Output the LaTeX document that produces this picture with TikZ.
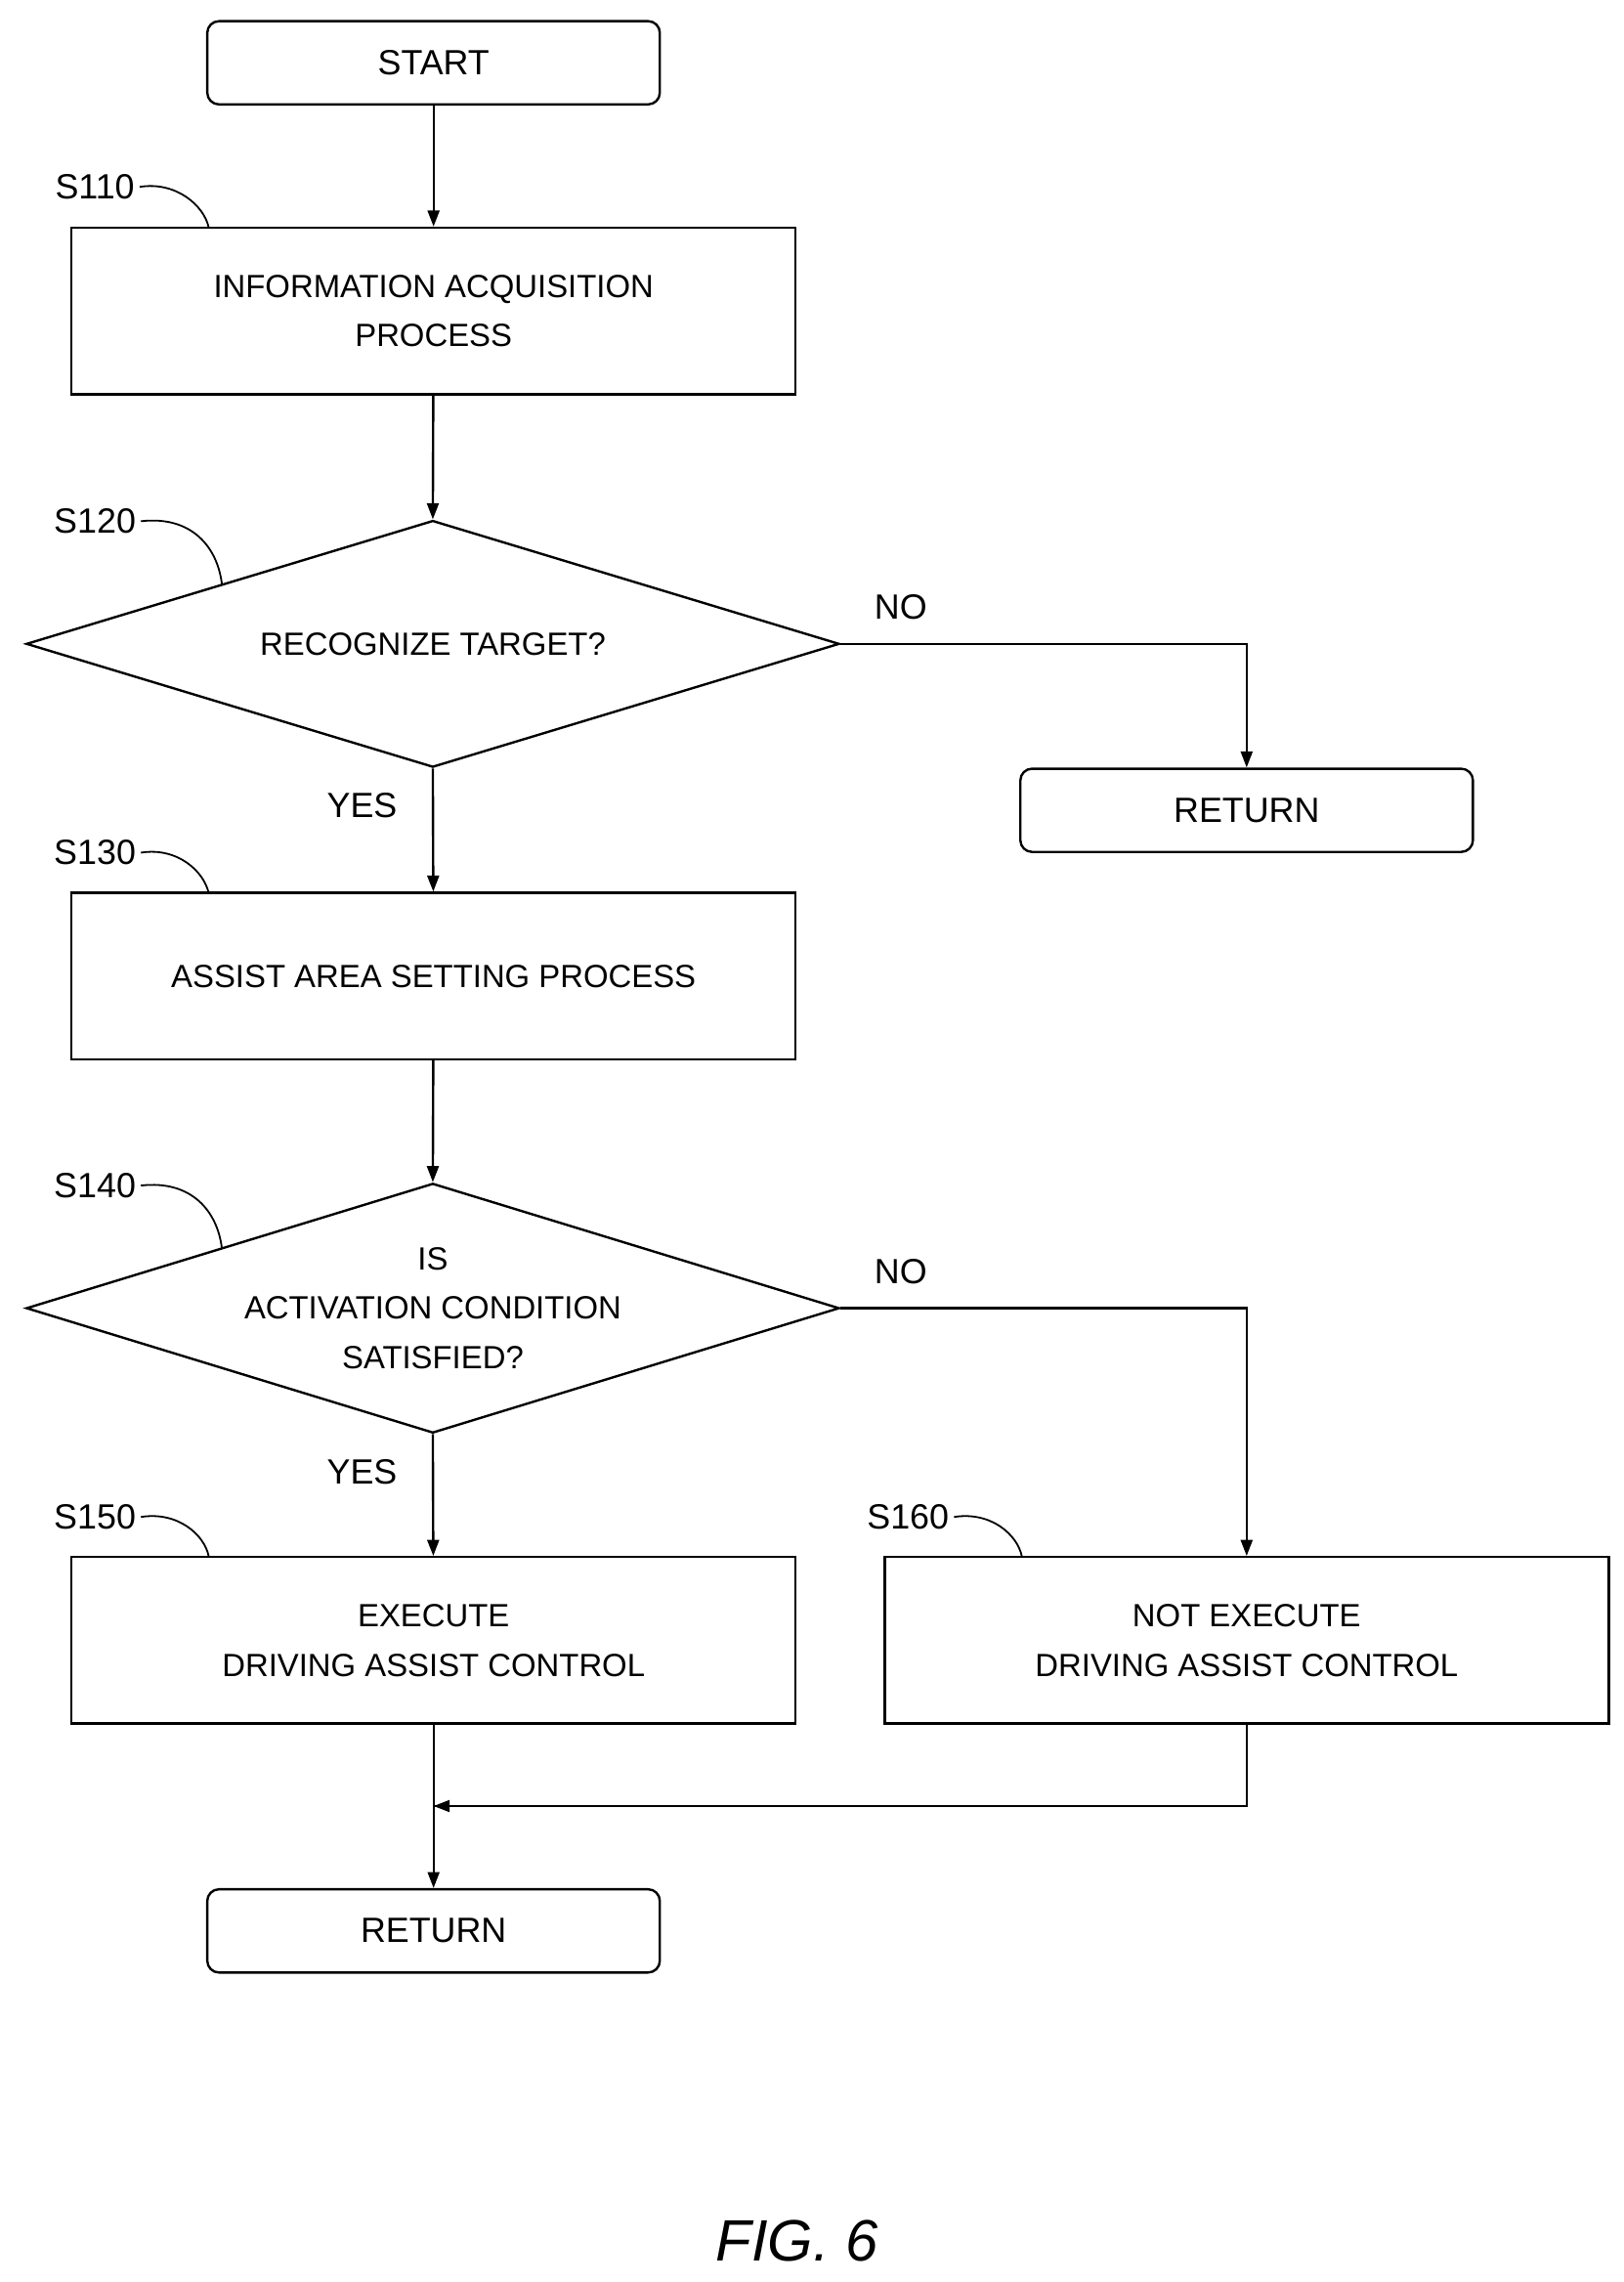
\documentclass[tikz,border=0pt]{standalone}
\usepackage{fontspec}
\setmainfont{Liberation Sans}
\usetikzlibrary{shapes.geometric,arrows.meta}
\begin{document}
\begin{tikzpicture}[x=1pt,y=-1pt,
  box/.style={draw,line width=1.6pt,minimum width=496pt,minimum height=114pt,align=center,font=\fontsize{22}{34}\selectfont},
  term/.style={draw,line width=1.6pt,rounded corners=8pt,minimum width=310pt,minimum height=57pt,font=\fontsize{24}{28}\selectfont},
  dia/.style={draw,line width=1.6pt,diamond,aspect=3.3,inner sep=0pt,minimum width=557pt,minimum height=169pt,align=center,font=\fontsize{22}{34}\selectfont},
  lab/.style={font=\fontsize{24}{28}\selectfont},
  arr/.style={line width=1.6pt,-{Triangle[length=11pt,width=8pt]}},
  ln/.style={line width=1.6pt},
  lead/.style={line width=1.2pt}]
\useasboundingbox (0,0) rectangle (1112,1563);
\node[term] (start) at (297,43) {START};
\node[box] (s110) at (297,213) {INFORMATION ACQUISITION\\PROCESS};
\node[dia] (s120) at (296.5,441) {RECOGNIZE TARGET?};
\node[term] (ret1) at (854,555) {RETURN};
\node[box] (s130) at (297,668.5) {ASSIST AREA SETTING PROCESS};
\node[dia,minimum height=171pt] (s140) at (296.5,896) {IS\\ACTIVATION CONDITION\\SATISFIED?};
\node[box] (s150) at (297,1123.5) {EXECUTE\\DRIVING ASSIST CONTROL};
\node[box] (s160) at (854,1123.5) {NOT EXECUTE\\DRIVING ASSIST CONTROL};
\node[term] (ret2) at (297,1322.5) {RETURN};
\coordinate (m) at (297,1237);
\node[lab] (l110) at (65,128) {S110};
\node[lab] (l120) at (65,357) {S120};
\node[lab] (l130) at (65,584) {S130};
\node[lab] (l140) at (65,812) {S140};
\node[lab] (l150) at (65,1039) {S150};
\node[lab] (l160) at (622,1039) {S160};
\node[lab] (no1) at (617,416) {NO};
\node[lab] (no2) at (617,871) {NO};
\node[lab] (yes1) at (248,552) {YES};
\node[lab] (yes2) at (248,1008) {YES};
\node[font=\itshape\fontsize{40}{46}\selectfont] (fig) at (546,1535) {FIG. 6};
\draw[arr] (start) -- (s110);
\draw[arr] (s110) -- (s120.north);
\draw[arr] (s120.south) -- (s130);
\draw[arr] (s130) -- (s140.north);
\draw[arr] (s140.south) -- (s150);
\draw[arr] (s120.east) -| (ret1.north);
\draw[arr] (s140.east) -| (s160.north);
\draw[arr] (s150) -- (ret2);
\draw[ln] (s160.south) |- (m);
\draw[arr] (s160.south |- m) -- (m);
\foreach \l/\x/\y in {l110/143/156,l130/143/612,l150/143/1066,l160/700/1066}
  \draw[lead] (\l.east) .. controls +(25,-4) and +(-3,-15) .. (\x,\y);
\foreach \l/\x/\y in {l120/152/400,l140/152/855}
  \draw[lead] (\l.east) .. controls +(35,-4) and +(-3,-25) .. (\x,\y);
\end{tikzpicture}
\end{document}
